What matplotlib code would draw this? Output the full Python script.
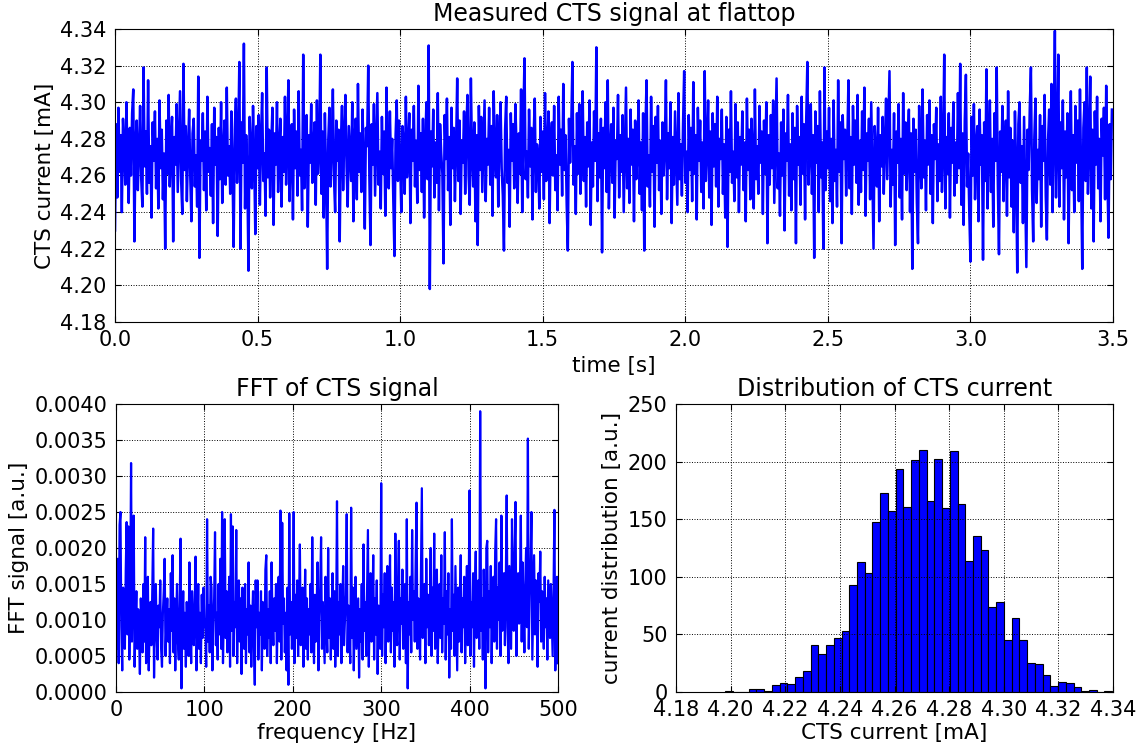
import numpy as np
import matplotlib
matplotlib.use("Agg")
from matplotlib import pyplot as plt
from matplotlib.ticker import FormatStrFormatter, MultipleLocator

# CTS current at flattop: offset from 4.270 mA in uA, one sample every 4 ms
cts_base = 4.270
sample_step = 0.004
cts_offset_uA = [
    -40, 18, -22, 27, -8, 12, -30, 21, 5, -15, 30, -3, -25, 16, -10, 24, 37, -46, 8, 20, -18, 3, 28, -12, -27,
    49, -5, 14, -20, 42, -14, 6, -33, 19, -2, 25, -17, 10, -28, 31, -6, 15, -23, 2, -50, 20, -9, 34, -16, 7,
    22, -46, 11, -4, 29, -19, 8, 36, -13, -31, 51, -7, 17, -24, 4, 26, -11, -35, 13, 21, -16, 1, -27, 44, -55,
    9, -2, 24, -18, 14, -29, 33, -8, 5, -21, 18, -36, 27, -4, 11, -43, 16, -12, 30, -25, 3, 20, -15, 38, -10,
    6, -20, 25, -7, -49, 15, 32, -14, 9, 52, -50, 19, -3, 62, -28, 12, -9, -62, 22, 4, -17, 28, -1, -42, 17,
    -6, 23, -26, 10, 35, -13, 2, -32, 49, -11, 15, -22, 7, 27, -37, 13, -4, 30, -19, 5, 21, -27, 11, -8, 33,
    -15, 8, 42, -24, 1, 18, -34, 26, -6, 14, -21, 36, -10, 4, -29, 56, -17, 9, 23, -38, 12, -3, 29, -14, 6,
    19, -26, 31, -9, 3, 56, -20, 14, -33, 24, -7, -61, 10, 27, -16, 5, 37, -12, -30, 20, -2, 15, -46, 8, 28,
    -18, 11, 34, -5, -27, 17, 2, -13, 30, -35, 9, 21, -23, 40, -8, 13, -19, 26, -1, -39, 16, 6, 50, -11, -48,
    18, -4, 29, -21, 7, 35, -15, 3, -28, 22, -9, 14, -32, 38, 1, -17, 25, -6, 10, -24, -54, 12, 31, -13, 20,
    -3, -30, 17, 8, -20, 33, -11, 4, 24, -36, 15, -2, 28, -16, 9, -25, 39, -7, 13, -19, 21, -33, 6, 30, -12,
    61, -72, 14, -5, 26, -22, 8, -14, 35, -29, 18, 2, -9, -58, 23, -1, 32, -18, 11, -37, 27, -6, 16, -24, 5,
    43, -13, 20, -31, 9, -3, 25, -20, 14, 34, -10, -26, 43, 1, -16, 19, -35, 12, -48, 28, -7, 22, -19, 5, 31,
    -24, 10, -4, 27, -15, 17, -32, 36, 2, -11, 23, -27, 8, 30, -6, -21, -51, 15, 33, -14, 4, -38, 24, -2, 18,
    -17, 29, 6, -25, 13, -9, 37, -30, 20, 54, -12, 3, -22, 26, -5, 16, -34, 11, 32, -19, 7, -1, -28, 22, -8,
    14, -23, 35, -13, 4, 25, -36, 9, 19, -10, 28, -18, 1, -29, 33, -4, 15, -21, 40, -7, 12, -26, -51, 21, -3,
    17, 52, -15, 6, -31, 24, -9, 29, -20, 2, 36, -13, 11, -27, 19, -5, 31, -37, 8, -16, 25, -2, 60, -24, 13,
    -11, 21, -52, 16, -6, 30, -19, 42, -28, 4, 18, -14, 27, -33, 9, -1, 34, -22, 12, -8, 23, -30, 5, 38, -17,
    10, -25, 26, -4, 15, -35, 20, -12, 3, 31, -20, 8, -29, 24, -51, 14, 42, -16, 1, -27, 33, -8, 17, -38, 22,
    -3, 28, -18, 9, -31, 19, -10, 6, 42, -23, 13, -6, 30, -36, 11, -15, 25, -1, -26, 35, -12, 7, -21, 18, 47,
    -14, 3, -30, 23, -7, 16, -24, 41, -9, 12, -34, 27, -2, 20, -19, 8, -28, 47, -13, 5, 31, -22, 14, -37, 24,
    -5, 18, -16, 33, -27, 10, -1, 26, -20, 7, -33, 22, -49, 15, -8, 36, -14, 3, -24, 29, -11, 19, -30, 11, -4,
    25, -18, 8, -35, 32, -7, 15, -23, 21, 1, -28, 37, -12, 6, -20, 28, -3, 14, -31, 20, -9, 30, -47, 12, -15,
    23, -6, 31, -25, 9, 43, -17, 2, -32, 19, -10, 26, -40, 13, -2, 34, -21, 7, -29, 24, -12, 16, -47, 28, -4,
    11, -26, 33, -9, 18, -34, 21, 52, -15, 5, 29, -20, 12, -55, 25, -3, 17, -30, 36, -11, 8, -50, 49, -18, 14,
    -6, 27, -24, 10, -36, 31, -13, 4, -27, 42, -8, 19, -47, 23, -1, 15, -21, 6, 42, -17, 11, -31, 28, -4, 20,
    -14, 34, -26, 9, -19, 25, -7, 38, -32, 13, -2, 21, -23, 30, -10, -50, 17, 3, -16, 27, -35, 12, -5, 22, -20,
    8, 32, -12, 18, 47, -27, 4, -15, 24, -48, 14, -3, 29, -22, 10, -34, 35, -9, 19, -18, 6, 26, -30, 13, -61,
    21, -8, 15, -25, -47, 28, 1, -17, 37, -11, 9, -29, 23, -4, 31, -20, 12, -36, 18, -1, 27, -24, 7, -13, 33,
    -19, 4, 56, -28, 11, -9, 24, -33, 16, -3, 30, -21, 8, -14, 35, -6, 51, -26, 13, -37, 20, 45, -16, 2, -31,
    -57, 22, -10, 29, -23, 7, 17, -35, 26, -4, 12, -56, 19, -13, 48, -28, 5, 31, -19, 10, -38, 24, -2, 49, -15,
    -53, 14, -8, 28, -24, 3, 20, -32, 36, -11, 16, -27, 9, -41, 25, -5, -63, 18, 30, -14, 6, -36, 22, -20, -60,
    15, -7, 27, 49, -18, -46, 11, 32, -25, 4, -12, 23, -38, 17, -2, 34, -21, -45, 9, 26, -15, 40, -30, 13, 69,
    -22, 8, 56, -27, 19, -6, 31, -34, 14, -11, 24, -47, 5, 36, -18, 12, -30, 28, -3, 20, -24, 37, -9, -61, 16,
    30, -13, 49, -20, 7, 44, -28, 15, -46, 25, -4, 33, -17, 10, -35, 21, 1, 27, -23, 39, -8, -44, 18, -12, 26,
]

# FFT amplitude of the signal, units of 1e-5, 1 Hz steps from 0 to 500 Hz
fft_amp_1e5 = [
    130, 60, 185, 40, 232, 250, 90, 30, 145, 110, 60, 170, 236, 80, 230, 45, 120, 318, 70, 150,
    245, 35, 100, 140, 60, 115, 80, 25, 130, 95, 55, 150, 70, 215, 40, 110, 160, 30, 90, 125,
    65, 140, 227, 20, 105, 150, 75, 45, 120, 90, 155, 60, 35, 110, 140, 185, 50, 95, 130, 70,
    115, 40, 165, 85, 190, 55, 130, 30, 100, 150, 70, 45, 120, 213, 5, 90, 140, 60, 110, 35,
    125, 75, 50, 180, 95, 40, 140, 105, 65, 120, 188, 30, 85, 150, 60, 110, 40, 135, 75, 145,
    90, 100, 35, 240, 70, 120, 55, 160, 145, 30, 95, 130, 222, 65, 110, 45, 150, 80, 185, 60,
    250, 40, 115, 240, 75, 140, 55, 100, 160, 35, 247, 85, 230, 50, 125, 90, 225, 40, 110, 155,
    70, 130, 25, 145, 95, 60, 150, 40, 115, 80, 180, 55, 120, 35, 100, 140, 65, 10, 155, 90,
    155, 45, 110, 80, 140, 30, 125, 95, 60, 170, 190, 50, 115, 75, 140, 40, 180, 100, 65, 130,
    85, 150, 40, 120, 160, 70, 252, 45, 235, 95, 130, 55, 110, 30, 145, 10, 248, 80, 125, 60,
    100, 250, 40, 135, 75, 155, 50, 120, 205, 65, 110, 145, 35, 90, 170, 60, 130, 45, 115, 80,
    150, 55, 215, 95, 40, 135, 70, 120, 180, 30, 105, 145, 215, 60, 125, 85, 40, 160, 100, 55,
    200, 75, 130, 45, 110, 165, 60, 140, 35, 95, 265, 50, 125, 80, 150, 40, 115, 175, 65, 100,
    135, 247, 55, 120, 90, 40, 256, 75, 145, 30, 110, 160, 60, 95, 130, 20, 115, 70, 150, 45,
    205, 85, 125, 50, 140, 225, 35, 110, 165, 70, 100, 190, 45, 130, 80, 155, 25, 120, 95, 60,
    290, 50, 135, 90, 165, 40, 120, 175, 70, 110, 190, 55, 145, 85, 125, 35, 220, 100, 65, 150,
    210, 45, 130, 95, 170, 60, 115, 150, 40, 240, 5, 125, 80, 160, 55, 225, 100, 140, 70, 180,
    263, 60, 130, 95, 45, 170, 283, 75, 120, 150, 40, 185, 90, 135, 65, 110, 200, 50, 145, 85,
    220, 60, 125, 170, 40, 105, 150, 75, 190, 55, 130, 95, 222, 45, 140, 80, 165, 20, 115, 60,
    240, 85, 135, 50, 175, 100, 30, 145, 70, 120, 190, 55, 130, 90, 160, 40, 115, 175, 65, 140,
    280, 50, 125, 90, 165, 35, 140, 195, 75, 120, 155, 60, 390, 85, 130, 45, 170, 100, 5, 200,
    210, 55, 140, 90, 175, 40, 125, 160, 70, 195, 240, 60, 145, 100, 180, 50, 245, 85, 130, 165,
    65, 150, 273, 90, 40, 175, 120, 60, 240, 140, 85, 195, 264, 50, 130, 165, 95, 145, 245, 70,
    180, 110, 55, 150, 200, 90, 352, 60, 135, 175, 250, 45, 120, 190, 80, 155, 100, 35, 165, 125,
    195, 70, 140, 105, 60, 160, 90, 130, 45, 155, 115, 75, 150, 100, 50, 140, 253, 30, 120, 160,
    40,
]
fft_max_freq = 500

# histogram of the CTS current (50 bins)
hist_counts = [1, 0, 0, 3, 3, 1, 6, 8, 7, 13, 18, 41, 33, 41, 47, 53, 93, 113, 103, 148,
               173, 157, 194, 161, 201, 210, 166, 202, 160, 209, 163, 114, 135, 123, 74, 78, 45, 64, 45, 25,
               24, 15, 5, 9, 8, 4, 1, 2, 0, 1]
hist_lo = 4.1981
hist_hi = 4.3397

plt.rcParams.update({
    "font.family": "DejaVu Sans",
    "xtick.direction": "in",
    "ytick.direction": "in",
    "xtick.top": True,
    "ytick.right": True,
    "xtick.major.size": 4,
    "ytick.major.size": 4,
    "xtick.major.pad": 6,
    "ytick.major.pad": 6,
    "xtick.labelsize": 15,
    "ytick.labelsize": 15,
    "axes.labelsize": 15.5,
    "axes.titlesize": 17,
    "grid.color": "k",
    "grid.linestyle": ":",
    "grid.linewidth": 0.7,
})

current = cts_base + np.array(cts_offset_uA) / 1000.0
time = np.arange(len(current)) * sample_step
fft_amp = np.array(fft_amp_1e5) * 1e-5
freq = np.linspace(0, fft_max_freq, len(fft_amp))
edges = np.linspace(hist_lo, hist_hi, len(hist_counts) + 1)

fig = plt.figure(figsize=(11.41, 7.46), dpi=100, facecolor="white")

# signal over time
ax1 = fig.add_axes([0.1008, 0.5684, 0.8747, 0.3927])
ax1.plot(time, current, color="b", lw=1.8)
ax1.set_xlim(0, 3.5)
ax1.set_ylim(4.18, 4.34)
ax1.xaxis.set_major_locator(MultipleLocator(0.5))
ax1.yaxis.set_major_locator(MultipleLocator(0.02))
ax1.xaxis.set_major_formatter(FormatStrFormatter("%.1f"))
ax1.yaxis.set_major_formatter(FormatStrFormatter("%.2f"))
ax1.set_title("Measured CTS signal at flattop")
ax1.set_xlabel("time [s]")
ax1.set_ylabel("CTS current [mA]")
ax1.grid(True)

# FFT
ax2 = fig.add_axes([0.1017, 0.0724, 0.3873, 0.386])
ax2.plot(freq, fft_amp, color="b", lw=1.6)
ax2.set_xlim(0, 500)
ax2.set_ylim(0, 0.004)
ax2.yaxis.set_major_locator(MultipleLocator(0.0005))
ax2.yaxis.set_major_formatter(FormatStrFormatter("%.4f"))
ax2.set_title("FFT of CTS signal")
ax2.set_xlabel("frequency [Hz]", labelpad=2)
ax2.set_ylabel("FFT signal [a.u.]")
ax2.grid(True)

# distribution
ax3 = fig.add_axes([0.5925, 0.0724, 0.383, 0.386])
ax3.bar(edges[:-1], hist_counts, width=np.diff(edges), align="edge",
        color="b", edgecolor="k", linewidth=0.8)
ax3.set_xlim(4.18, 4.34)
ax3.set_ylim(0, 250)
ax3.xaxis.set_major_locator(MultipleLocator(0.02))
ax3.xaxis.set_major_formatter(FormatStrFormatter("%.2f"))
ax3.yaxis.set_major_locator(MultipleLocator(50))
ax3.set_title("Distribution of CTS current")
ax3.set_xlabel("CTS current [mA]", labelpad=2)
ax3.set_ylabel("current distribution [a.u.]")
ax3.grid(True)
ax3.set_axisbelow(False)

plt.savefig("out.png", dpi=100, facecolor="white")
